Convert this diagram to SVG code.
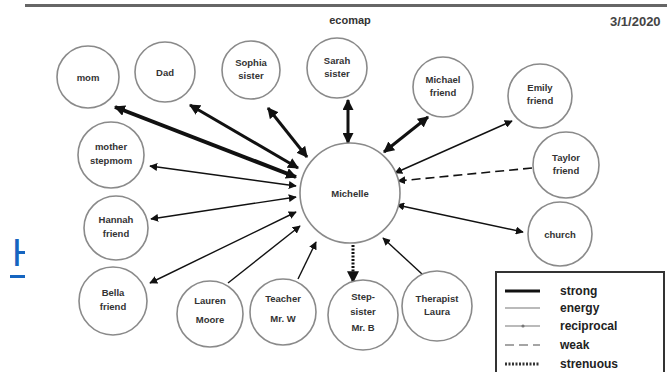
<svg xmlns="http://www.w3.org/2000/svg" width="667" height="372" viewBox="0 0 667 372">
<style>
.node circle{fill:#fff;stroke:#8a8a8a;stroke-width:1.6}
.node text{font-family:"Liberation Sans",Arial,sans-serif;font-size:9.5px;font-weight:bold;fill:#333;text-anchor:middle}
.c line{stroke:#111;fill:none}
.strong{stroke-width:4}
.med{stroke-width:3}
.thin{stroke-width:1.4}
.dash{stroke-width:1.6;stroke-dasharray:9 5}
.hatch{stroke-width:3;stroke-dasharray:2 1.5}
.lg text{font-family:"Liberation Sans",Arial,sans-serif;font-size:12px;font-weight:bold;fill:#222}
</style>
<defs>
<marker id="a" viewBox="0 0 10 10" refX="9" refY="5" markerWidth="4" markerHeight="4" orient="auto-start-reverse" markerUnits="strokeWidth"><path d="M0,0 L10,5 L0,10 z" fill="#111"/></marker>
<marker id="b" viewBox="0 0 10 10" refX="9" refY="5" markerWidth="8" markerHeight="8" orient="auto-start-reverse" markerUnits="userSpaceOnUse"><path d="M0,0 L10,5 L0,10 z" fill="#111"/></marker>
<marker id="bl" viewBox="0 0 10 10" refX="9" refY="5" markerWidth="11" markerHeight="11" orient="auto-start-reverse" markerUnits="userSpaceOnUse"><path d="M0,0 L10,5 L0,10 z" fill="#111"/></marker>
</defs>
<rect width="667" height="372" fill="#fff"/>
<text x="12" y="266" font-family="Liberation Sans,Arial,sans-serif" font-size="38" fill="#1565c0">H</text>
<rect x="10" y="275" width="16" height="3" fill="#1565c0"/>
<rect x="25" y="0" width="642" height="372" fill="#fff"/>
<rect x="25" y="4" width="642" height="3" fill="#666"/>
<text x="350" y="24" font-family="Liberation Sans,Arial,sans-serif" font-size="11" font-weight="bold" fill="#333" text-anchor="middle">ecomap</text>
<text x="610" y="26" font-family="Liberation Sans,Arial,sans-serif" font-size="13" font-weight="bold" fill="#444">3/1/2020</text>

<g class="c" id="connectors">
<line class="strong" x1="115" y1="107" x2="296" y2="177" marker-start="url(#bl)" marker-end="url(#bl)"/>
<line class="med" x1="190" y1="105" x2="298" y2="168" marker-start="url(#bl)" marker-end="url(#bl)"/>
<line class="med" x1="268" y1="108" x2="307" y2="157" marker-start="url(#bl)" marker-end="url(#bl)"/>
<line class="med" x1="348" y1="100" x2="348" y2="143" marker-start="url(#bl)" marker-end="url(#bl)"/>
<line class="med" x1="428" y1="117" x2="384" y2="152" marker-start="url(#bl)" marker-end="url(#bl)"/>
<line class="thin" x1="512" y1="121" x2="395" y2="173" marker-start="url(#b)" marker-end="url(#b)"/>
<line class="dash" x1="532" y1="168" x2="398" y2="181" marker-end="url(#b)"/>
<line class="thin" x1="397" y1="205" x2="523" y2="232" marker-start="url(#b)" marker-end="url(#b)"/>
<line class="thin" x1="150" y1="166" x2="296" y2="186" marker-start="url(#b)" marker-end="url(#b)"/>
<line class="thin" x1="151" y1="219" x2="296" y2="197" marker-start="url(#b)" marker-end="url(#b)"/>
<line class="thin" x1="150" y1="283" x2="296" y2="212" marker-start="url(#b)" marker-end="url(#b)"/>
<line class="thin" x1="228" y1="283" x2="300" y2="226" marker-end="url(#b)"/>
<line class="thin" x1="298" y1="279" x2="316" y2="242" marker-end="url(#b)"/>
<line class="hatch" x1="353" y1="245" x2="353" y2="282" marker-end="url(#a)"/>
<line class="thin" x1="422" y1="274" x2="383" y2="238" marker-end="url(#b)"/>
</g>

<g class="node" id="n-michelle"><circle cx="350" cy="193" r="50"/><text x="350" y="197">Michelle</text></g>
<g class="node" id="n-mom"><circle cx="88" cy="77" r="31"/><text x="88" y="81">mom</text></g>
<g class="node" id="n-dad"><circle cx="165" cy="72" r="30"/><text x="165" y="76">Dad</text></g>
<g class="node" id="n-sophia"><circle cx="251" cy="70" r="29"/><text x="251" y="66">Sophia</text><text x="251" y="79">sister</text></g>
<g class="node" id="n-sarah"><circle cx="337" cy="68" r="30"/><text x="337" y="64">Sarah</text><text x="337" y="77">sister</text></g>
<g class="node" id="n-michael"><circle cx="443" cy="87" r="30"/><text x="443" y="83">Michael</text><text x="443" y="96">friend</text></g>
<g class="node" id="n-emily"><circle cx="540" cy="96" r="32"/><text x="540" y="91">Emily</text><text x="540" y="104">friend</text></g>
<g class="node" id="n-taylor"><circle cx="566" cy="165" r="33"/><text x="566" y="161">Taylor</text><text x="566" y="174">friend</text></g>
<g class="node" id="n-church"><circle cx="560" cy="234" r="32"/><text x="560" y="238">church</text></g>
<g class="node" id="n-stepmom"><circle cx="111" cy="155" r="33"/><text x="111" y="150">mother</text><text x="111" y="164">stepmom</text></g>
<g class="node" id="n-hannah"><circle cx="116" cy="228" r="32"/><text x="116" y="223">Hannah</text><text x="116" y="237">friend</text></g>
<g class="node" id="n-bella"><circle cx="113" cy="301" r="34"/><text x="113" y="296">Bella</text><text x="113" y="310">friend</text></g>
<g class="node" id="n-lauren"><circle cx="210" cy="314" r="33"/><text x="210" y="304">Lauren</text><text x="210" y="323">Moore</text></g>
<g class="node" id="n-teacher"><circle cx="283" cy="312" r="33"/><text x="283" y="302">Teacher</text><text x="283" y="322">Mr. W</text></g>
<g class="node" id="n-stepsister"><circle cx="363" cy="315" r="35"/><text x="363" y="300">Step-</text><text x="363" y="315">sister</text><text x="363" y="331">Mr. B</text></g>
<g class="node" id="n-therapist"><circle cx="437" cy="306" r="35"/><text x="437" y="302">Therapist</text><text x="437" y="315">Laura</text></g>

<g class="lg" id="legend">
<rect x="496" y="272" width="168" height="104" fill="#fff" stroke="#333" stroke-width="2"/>
<line x1="505" y1="291" x2="540" y2="291" stroke="#111" stroke-width="3"/>
<text x="560" y="295">strong</text>
<line x1="505" y1="308" x2="540" y2="308" stroke="#777" stroke-width="1.2"/>
<text x="560" y="312">energy</text>
<line x1="505" y1="326" x2="540" y2="326" stroke="#777" stroke-width="1.2"/>
<circle cx="523" cy="326" r="1.6" fill="#777"/>
<text x="560" y="330">reciprocal</text>
<line x1="505" y1="345" x2="540" y2="345" stroke="#888" stroke-width="1.6" stroke-dasharray="9 5"/>
<text x="560" y="349">weak</text>
<line x1="505" y1="364" x2="540" y2="364" stroke="#333" stroke-width="3" stroke-dasharray="2 1.5"/>
<text x="560" y="368">strenuous</text>
</g>
</svg>
